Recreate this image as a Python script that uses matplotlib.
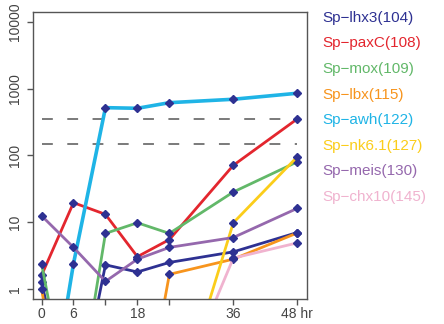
import matplotlib
matplotlib.use("Agg")
from matplotlib import pyplot as plt
import numpy as np

plt.rcParams['font.family'] = ['Liberation Sans', 'DejaVu Sans']

hours = [0, 6, 12, 18, 24, 36, 48]

genes = ['Sp\u2212lhx3(104)', 'Sp\u2212paxC(108)', 'Sp\u2212mox(109)', 'Sp\u2212lbx(115)',
         'Sp\u2212awh(122)', 'Sp\u2212nk6.1(127)', 'Sp\u2212meis(130)', 'Sp\u2212chx10(145)']
colors = ['#2e3192', '#e3262e', '#62b869', '#f7941d',
          '#1fb4e6', '#fbcd1a', '#9568ad', '#f0b3cf']

# transcript counts per time point (values below 1 sit off the bottom of the axis)
lhx3 = [1.27, 0.01, 2.3, 1.8, 2.5, 3.6, 7.0]
paxC = [1.6, 19.6, 13.1, 3.05, 5.5, 71, 351]
mox = [2.4, 0.008, 6.8, 9.8, 6.8, 28.3, 80]
lbx = [1.0, 0.002, 0.001, 0.004, 1.66, 2.8, 6.9]
awh = [0.003, 2.4, 518, 507, 615, 692, 851]
nk61 = [0.001, 0.001, 0.001, 0.001, 0.0075, 9.8, 95]
meis = [12.5, 4.2, 1.3, 2.8, 4.2, 5.9, 16.1]
chx10 = [0.001, 0.001, 0.001, 0.001, 0.015, 2.9, 4.9]
series = [lhx3, paxC, mox, lbx, awh, nk61, meis, chx10]

thresholds = [350, 148]

fig = plt.figure(figsize=(4.44, 3.24), dpi=100)
ax = fig.add_axes([0.074, 0.077, 0.617, 0.886])

for y in thresholds:
    ax.plot([0, 48], [y, y], color='#707070', lw=1.3, dashes=(6, 8))

for vals, c in zip(series, colors):
    lw = 2.6 if c == '#1fb4e6' else 2.0
    ax.plot(hours, vals, color=c, lw=lw, marker='D', markersize=3.6,
            markerfacecolor='#2e3192', markeredgecolor='#2e3192', clip_on=True)

ax.set_yscale('log')
ax.set_xlim(-1.63, 49.8)
ax.set_ylim(0.708, 14000)

ax.set_xticks(hours)
ax.set_xticklabels(['0', '6', '', '18', '', '36', '48 hr'])
ax.set_yticks([1, 10, 100, 1000, 10000])
ax.set_yticklabels(['1', '10', '100', '1000', '10000'], rotation=90, va='center')
ax.yaxis.set_minor_locator(matplotlib.ticker.NullLocator())

for s in ax.spines.values():
    s.set_color('#555555')
    s.set_linewidth(1.0)
ax.tick_params(colors='#555555', labelcolor='#444444', labelsize=10, length=4, width=1.0)
ax.tick_params(axis='x', pad=2)

# gene names as coloured text to the right of the axes
for i, (name, c) in enumerate(zip(genes, colors)):
    fig.text(0.725, 0.945 - i * 0.079, name, color=c, fontsize=11, va='center')

fig.savefig('out.png', dpi=100)
